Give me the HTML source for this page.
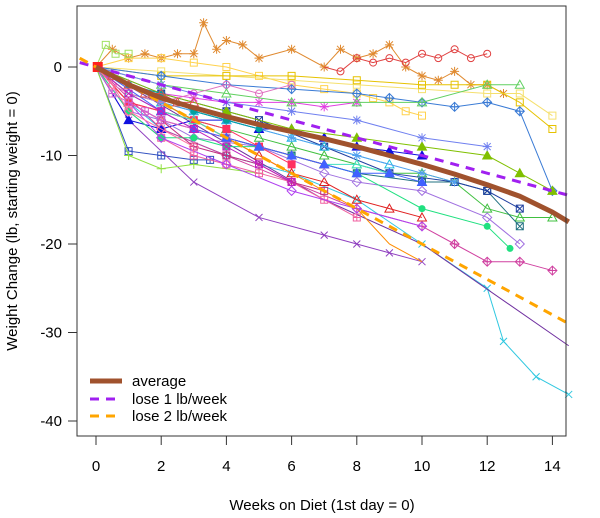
<!DOCTYPE html>
<html><head><meta charset="utf-8"><style>
body{margin:0;background:#fff}
svg{display:block;font-family:"Liberation Sans",Arial,sans-serif}
</style></head><body>
<svg id="chart" width="600" height="518" viewBox="0 0 600 518" xmlns="http://www.w3.org/2000/svg">
<rect x="0" y="0" width="600" height="518" fill="#fff"/>
<g id="series"></g>
<g id="refs"></g>
<rect x="77" y="6" width="489" height="430" fill="none" stroke="#333" stroke-width="1"/>
<g id="axes"></g>
<text x="322" y="510" font-size="15" text-anchor="middle">Weeks on Diet (1st day = 0)</text>
<text transform="translate(17,221) rotate(-90)" font-size="15" text-anchor="middle">Weight Change (lb, starting weight = 0)</text>
<g>
<line x1="90" y1="381" x2="122" y2="381" stroke="#a0522d" stroke-width="5"/>
<text x="132" y="386" font-size="15">average</text>
<line x1="90" y1="399" x2="122" y2="399" stroke="#a020f0" stroke-width="3" stroke-dasharray="9,7"/>
<text x="132" y="404" font-size="15">lose 1 lb/week</text>
<line x1="90" y1="416" x2="122" y2="416" stroke="#ffa500" stroke-width="3" stroke-dasharray="9,7"/>
<text x="132" y="421" font-size="15">lose 2 lb/week</text>
</g>
</svg>
<script>
const xTicks=[0,2,4,6,8,10,12,14];
const yTicks=[0,-10,-20,-30,-40];
const avgWeeks=[0,0.5,1,2,3,4,5,6,7,8,9,10,11,12,13,14,14.5];
const avgValues=[0,-1,-2,-3.5,-4.6,-5.6,-6.5,-7.3,-8.1,-9,-10,-11,-12.1,-13.3,-14.6,-16.4,-17.5];
const lose1Rate=-1, lose2Rate=-2;
const colors=["#e08a30","#e04040","#ffd24d","#f5e06e","#e6c200","#3a7bd5","#e040e0","#3050c0","#30c8e0","#9040c0","#7030a0","#d040a0","#40c040","#1010e0","#207080","#e02020","#90e040","#ff8c00","#f060a0","#2040a0","#60d060","#a070e0","#20e080","#20c0e0","#a0e060","#c03080","#50a0f0","#ff3060","#80c000","#b040f0","#40e0c0","#e070c0","#ff4040","#d060d0","#00a0a0","#4060ff","#ff70a0","#c020c0","#7080f0","#e05050"];
const markers=["ast","circ","sq","sq","sq","dplus","ast","sqplus","x","x","none","dplus","tri","trif","sqx","tri","plus","none","sqplus","sqx","tri","diam","circf","tri","sq","sqplus","ast","sqf","trif","diam","tri","circ","tri","sqplus","circf","trif","diam","sqx","ast","tri"];
const s0w=[0,0.5,1,1.5,2,2.5,3,3.3,3.7,4,4.5,5,6,7,7.5,8,8.5,9,9.5,10,10.5,11,11.5,12,12.5], s0v=[0,2,1,1.5,1,1.5,1.5,5,2,3,2.5,1,2,0,2,1,1.5,2.5,0,-1,-1.5,-0.5,-2,-2,-3];
const s1w=[7,7.5,8,8.5,9,9.5,10,10.5,11,11.5,12], s1v=[0,-0.5,1,0.5,1,0.5,1.5,1,2,1,1.5];
const s2w=[0,1,2,3,4,5,6,7,8,8.5,9,9.5,10], s2v=[0,1,1,0.5,0,-1,-2,-2.5,-3,-3.5,-4,-5,-5.5];
const s3w=[0,2,4,6,8,10,12,13,14], s3v=[0,-0.5,-1,-1.5,-2,-2.5,-3,-3,-5.5];
const s4w=[0,2,4,6,8,10,11,12,13,14], s4v=[0,-1,-1,-1,-1.5,-2,-2,-2,-4,-7];
const s5w=[0,2,4,6,8,9,10,11,12,13,14], s5v=[0,-1,-2,-2.5,-3,-3.5,-4,-4.5,-4,-5,-14];
const s6w=[0,1,2,3,4,5,6,7,8], s6v=[0,-2,-3,-3.5,-4,-4,-4,-4.5,-4];
const s7w=[0,1,2,3,3.5], s7v=[0,-9.5,-10,-10.5,-10.5];
const s8w=[0,1,2,4,6,8,10,12,12.5,13.5,14.5], s8v=[0,-4,-7,-10,-12,-15,-20,-25,-31,-35,-37];
const s9w=[0,1,3,5,7,8,9,10], s9v=[0,-6,-13,-17,-19,-20,-21,-22];
const s10w=[0,7,10,14.5], s10v=[0,-15,-20,-31.5];
const s11w=[0,2,4,6,8,10,11,12,13,14], s11v=[0,-7,-10,-13,-16,-18,-20,-22,-22,-23];
const s12w=[0,1,2,3,4,5,6,7,8,9,10,11,12,13,14], s12v=[0,-3,-4,-6,-7,-8,-9,-10,-11,-12,-12,-13,-16,-17,-17];
const s13w=[0,1,2,3,4,5,6,7,8,9,10], s13v=[0,-6,-7,-6,-6,-7,-7,-8,-9,-9.5,-10];
const s14w=[0,2,4,6,8,10,11,12,13], s14v=[0,-4,-8,-10,-12,-13,-13,-14,-18];
const s15w=[0,1,2,3,4,5,6,7,8,9,10], s15v=[0,-4,-5,-6,-8,-10,-12,-13,-15,-16,-17];
const s16w=[0,1,2,3,5], s16v=[0,-10,-11.5,-11,-12];
const s17w=[0,2,4,6,8,9,10], s17v=[0,-4,-8,-12,-16,-20,-22];
const s18w=[0,1,2,3,4,5,6,7,8], s18v=[0,-5,-8,-10,-11,-12,-13,-15,-17];
const s19w=[0,2,4,5,7,9,11,12,13], s19v=[0,-3,-5,-6,-9,-12,-13,-14,-16];
const s20w=[0,2,4,6,8,10,12,13], s20v=[0,-2,-3,-4,-4,-4,-2,-2];
const s21w=[0,1,2,3,5,7,8,10,12,13], s21v=[0,-5,-6,-8,-9,-12,-13,-14,-17,-20];
const s22w=[0,1,2,3,4,5,6,8,10,12,12.7], s22v=[0,-5,-8,-8,-9,-9,-10,-12,-16,-18,-20.5];
const s23w=[0,1,2,3,4,6,7,9], s23v=[0,-3,-4,-5,-6,-8,-9,-11];
const s24w=[0,0.3,0.6,1], s24v=[0,2.5,1.5,1.5];
const s25w=[0,1,2,3,4,5,6,7], s25v=[0,-4,-6,-9,-10,-11,-13,-14];
const s26w=[0,1,2,3,4,6,8,10,11], s26v=[0,-2,-4,-5,-6,-8,-10,-12,-13];
const s27w=[0,1,2,3,4,5,6], s27v=[0,-4,-5,-6,-7,-9,-11];
const s28w=[0,2,4,6,8,10,12,13,14], s28v=[0,-3,-5,-7,-8,-9,-10,-12,-14];
const s29w=[0,2,4,6,8,10], s29v=[0,-8,-11,-14,-16,-18];
const s30w=[0,1,2,3,4,5,6,7,8,9], s30v=[0,-3,-5,-6,-8,-9,-10,-11,-11,-12];
const s31w=[0,0.5,1,2,3,4,5,6], s31v=[0,-2,-3,-4,-3,-2,-3,-2];
const s32w=[0,1,2,3,4,5,6,7], s32v=[0,-4,-6,-7,-8,-9,-10,-11];
const s33w=[0,0.5,1,1.5,2,3,4], s33v=[0,-3,-4,-5,-6,-7,-8];
const s34w=[0,1,2,3,4,5], s34v=[0,-2,-3,-5,-6,-7];
const s35w=[0,2,3,4,5,6,7,8,9,10], s35v=[0,-5,-7,-8,-9,-10,-11,-12,-12,-13];
const s36w=[0,0.5,1,2,3], s36v=[0,-2,-5,-7,-9];
const s37w=[0,1,2,3,4,5,6], s37v=[0,-3,-5,-7,-9,-11,-13];
const s38w=[0,2,4,6,8,10,12], s38v=[0,-2,-4,-5,-6,-8,-9];
const s39w=[0,0.5,1,1.5,2,2.5,3], s39v=[0,-1,-2,-3,-3,-4,-4];
const sw=[s0w,s1w,s2w,s3w,s4w,s5w,s6w,s7w,s8w,s9w,s10w,s11w,s12w,s13w,s14w,s15w,s16w,s17w,s18w,s19w,s20w,s21w,s22w,s23w,s24w,s25w,s26w,s27w,s28w,s29w,s30w,s31w,s32w,s33w,s34w,s35w,s36w,s37w,s38w,s39w];
const sv=[s0v,s1v,s2v,s3v,s4v,s5v,s6v,s7v,s8v,s9v,s10v,s11v,s12v,s13v,s14v,s15v,s16v,s17v,s18v,s19v,s20v,s21v,s22v,s23v,s24v,s25v,s26v,s27v,s28v,s29v,s30v,s31v,s32v,s33v,s34v,s35v,s36v,s37v,s38v,s39v];

const NS="http://www.w3.org/2000/svg";
const X=w=>96+32.6*w, Y=v=>67-8.85*v;
function mk(tag,attrs,parent){const e=document.createElementNS(NS,tag);for(const k in attrs)e.setAttribute(k,attrs[k]);parent.appendChild(e);return e;}
const axes=document.getElementById('axes');
xTicks.forEach(t=>{
  const l=mk('line',{x1:X(t),x2:X(t),y1:436,y2:445,stroke:'#333'},axes);
  
  
  const tx=mk('text',{x:X(t),y:471,'font-size':15,'text-anchor':'middle'},axes);tx.textContent=t;
  
  
});
yTicks.forEach(t=>{
  const l=mk('line',{x1:68,x2:77,y1:Y(t),y2:Y(t),stroke:'#333'},axes);
  
  
  const tx=mk('text',{x:62,y:Y(t)+5,'font-size':15,'text-anchor':'end'},axes);tx.textContent=t;
  
  
});
const sg=document.getElementById('series');
function marker(type,x,y,c,g){
  const r=3.5,st={stroke:c,'stroke-width':1,fill:'none'};
  const P=(d,f)=>mk('path',Object.assign({},st,{d:d},f?{fill:c}:{}),g);
  switch(type){
    case 'circ':mk('circle',Object.assign({},st,{cx:x,cy:y,r:r}),g);break;
    case 'circf':mk('circle',{cx:x,cy:y,r:r,fill:c},g);break;
    case 'sq':P(`M${x-r} ${y-r}h${2*r}v${2*r}h${-2*r}z`);break;
    case 'sqf':P(`M${x-r} ${y-r}h${2*r}v${2*r}h${-2*r}z`,1);break;
    case 'sqplus':P(`M${x-r} ${y-r}h${2*r}v${2*r}h${-2*r}zM${x} ${y-r}v${2*r}M${x-r} ${y}h${2*r}`);break;
    case 'sqx':P(`M${x-r} ${y-r}h${2*r}v${2*r}h${-2*r}zM${x-r} ${y-r}l${2*r} ${2*r}M${x+r} ${y-r}l${-2*r} ${2*r}`);break;
    case 'tri':P(`M${x} ${y-r-1}L${x+r+1} ${y+r}L${x-r-1} ${y+r}z`);break;
    case 'trif':P(`M${x} ${y-r-1}L${x+r+1} ${y+r}L${x-r-1} ${y+r}z`,1);break;
    case 'diam':P(`M${x} ${y-r-1}L${x+r+1} ${y}L${x} ${y+r+1}L${x-r-1} ${y}z`);break;
    case 'dplus':P(`M${x} ${y-r-1}L${x+r+1} ${y}L${x} ${y+r+1}L${x-r-1} ${y}zM${x} ${y-r-1}v${2*r+2}M${x-r-1} ${y}h${2*r+2}`);break;
    case 'x':P(`M${x-r} ${y-r}l${2*r} ${2*r}M${x+r} ${y-r}l${-2*r} ${2*r}`);break;
    case 'plus':P(`M${x-r-1} ${y}h${2*r+2}M${x} ${y-r-1}v${2*r+2}`);break;
    case 'ast':P(`M${x-r} ${y-r}l${2*r} ${2*r}M${x+r} ${y-r}l${-2*r} ${2*r}M${x-r-1} ${y}h${2*r+2}M${x} ${y-r-1}v${2*r+2}`);break;
  }
}
sw.forEach((ws,i)=>{
  const g=mk('g',{},sg);
  
  
  const c=colors[i%colors.length];
  const pts=ws.map((w,j)=>X(w)+','+Y(sv[i][j])).join(' ');
  mk('polyline',{points:pts,fill:'none',stroke:c,'stroke-width':1},g);
  ws.forEach((w,j)=>{if(j>0)marker(markers[i%markers.length],X(w),Y(sv[i][j]),c,g);});
});
mk('rect',{x:X(-0.1),y:Y(0)-5,width:10,height:10,fill:'#ff2020'},sg);
const refs=document.getElementById('refs');
const x0=-0.5,x1=14.45;
const l1=mk('line',{x1:X(x0),y1:Y(lose1Rate*x0),x2:X(x1),y2:Y(lose1Rate*x1),stroke:'#a020f0','stroke-width':3,'stroke-dasharray':'9,7'},refs);


const l2=mk('line',{x1:X(x0),y1:Y(lose2Rate*x0),x2:X(x1),y2:Y(lose2Rate*x1),stroke:'#ffa500','stroke-width':3,'stroke-dasharray':'9,7'},refs);


const av=mk('polyline',{points:avgWeeks.map((w,j)=>X(w)+','+Y(avgValues[j])).join(' '),fill:'none',stroke:'#a0522d','stroke-width':5,'stroke-linejoin':'round'},refs);


</script>
</body></html>
